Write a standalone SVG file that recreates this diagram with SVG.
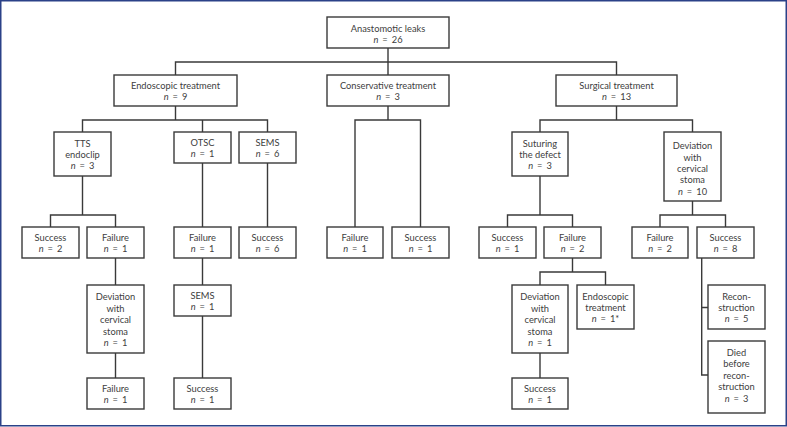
<svg xmlns="http://www.w3.org/2000/svg" width="787" height="427" viewBox="0 0 787 427">
<style>
.b{fill:#fff;stroke:#3a3a3a;stroke-width:1.4}
.t{font-family:Lato,"Open Sans",sans-serif;font-size:9.3px;fill:#404040;text-anchor:middle}
.i{font-style:italic}
.w{word-spacing:1.6px}
.c{fill:none;stroke:#3a3a3a;stroke-width:1.4}
</style>
<rect x="0.75" y="0.75" width="785.5" height="425" fill="#fff" stroke="#2b4188" stroke-width="1.5"/>
<g id="connectors" class="c">
<path d="M388,48V75M175.5,75V62H616.5V75"/>
<path d="M175.5,106V120M82.5,132V120H267.5V132M202.5,120V132"/>
<path d="M388,106V120M355,227V120H420.5V227"/>
<path d="M616.5,106V120M540,132V120H692.5V132"/>
<path d="M82.5,176V215M50.5,227V215H115.5V227"/>
<path d="M202.5,163V227M267.5,163V227"/>
<path d="M540,176V215M507.5,227V215H572.5V227"/>
<path d="M692.5,201V215M660,227V215H725.5V227"/>
<path d="M115.5,258V285M115.5,353V378"/>
<path d="M202.5,258V285M202.5,316V378"/>
<path d="M572.5,258V272M540,285V272H605.5V285M540,353V378"/>
<path d="M701.7,258V375H708M701.7,307.5H708"/>
</g>
<g id="n1"><rect class="b" x="327" y="17" width="122" height="31"/><text class="t"><tspan x="388" y="31.5">Anastomotic leaks</tspan><tspan x="388" y="42.8" class="w"><tspan class="i">n</tspan> = 26</tspan></text></g>
<g id="n2"><rect class="b" x="114" y="75" width="123" height="31"/><text class="t"><tspan x="175.5" y="89">Endoscopic treatment</tspan><tspan x="175.5" y="100.2" class="w"><tspan class="i">n</tspan> = 9</tspan></text></g>
<g id="n3"><rect class="b" x="327" y="75" width="122" height="31"/><text class="t"><tspan x="388" y="89">Conservative treatment</tspan><tspan x="388" y="100.2" class="w"><tspan class="i">n</tspan> = 3</tspan></text></g>
<g id="n4"><rect class="b" x="556" y="75" width="121" height="31"/><text class="t"><tspan x="616.5" y="89">Surgical treatment</tspan><tspan x="616.5" y="100.2" class="w"><tspan class="i">n</tspan> = 13</tspan></text></g>
<g id="n5"><rect class="b" x="54" y="132" width="57" height="44"/><text class="t"><tspan x="82.5" y="146.5">TTS</tspan><tspan x="82.5" y="157.8">endoclip</tspan><tspan x="82.5" y="169.1" class="w"><tspan class="i">n</tspan> = 3</tspan></text></g>
<g id="n6"><rect class="b" x="174" y="132" width="57" height="31"/><text class="t"><tspan x="202.5" y="146">OTSC</tspan><tspan x="202.5" y="157.2" class="w"><tspan class="i">n</tspan> = 1</tspan></text></g>
<g id="n7"><rect class="b" x="239" y="132" width="57" height="31"/><text class="t"><tspan x="267.5" y="146">SEMS</tspan><tspan x="267.5" y="157.2" class="w"><tspan class="i">n</tspan> = 6</tspan></text></g>
<g id="n8"><rect class="b" x="512" y="132" width="56" height="44"/><text class="t"><tspan x="540" y="146.5">Suturing</tspan><tspan x="540" y="157.8">the defect</tspan><tspan x="540" y="169.1" class="w"><tspan class="i">n</tspan> = 3</tspan></text></g>
<g id="n9"><rect class="b" x="664" y="132" width="57" height="69"/><text class="t"><tspan x="692.5" y="149.3">Deviation</tspan><tspan x="692.5" y="160.6">with</tspan><tspan x="692.5" y="171.9">cervical</tspan><tspan x="692.5" y="183.2">stoma</tspan><tspan x="692.5" y="194.5" class="w"><tspan class="i">n</tspan> = 10</tspan></text></g>
<g id="n10"><rect class="b" x="22" y="227" width="57" height="31"/><text class="t"><tspan x="50.5" y="241">Success</tspan><tspan x="50.5" y="252.2" class="w"><tspan class="i">n</tspan> = 2</tspan></text></g>
<g id="n11"><rect class="b" x="87" y="227" width="57" height="31"/><text class="t"><tspan x="115.5" y="241">Failure</tspan><tspan x="115.5" y="252.2" class="w"><tspan class="i">n</tspan> = 1</tspan></text></g>
<g id="n12"><rect class="b" x="174" y="227" width="57" height="31"/><text class="t"><tspan x="202.5" y="241">Failure</tspan><tspan x="202.5" y="252.2" class="w"><tspan class="i">n</tspan> = 1</tspan></text></g>
<g id="n13"><rect class="b" x="239" y="227" width="57" height="31"/><text class="t"><tspan x="267.5" y="241">Success</tspan><tspan x="267.5" y="252.2" class="w"><tspan class="i">n</tspan> = 6</tspan></text></g>
<g id="n14"><rect class="b" x="327" y="227" width="56" height="31"/><text class="t"><tspan x="355" y="241">Failure</tspan><tspan x="355" y="252.2" class="w"><tspan class="i">n</tspan> = 1</tspan></text></g>
<g id="n15"><rect class="b" x="392" y="227" width="57" height="31"/><text class="t"><tspan x="420.5" y="241">Success</tspan><tspan x="420.5" y="252.2" class="w"><tspan class="i">n</tspan> = 1</tspan></text></g>
<g id="n16"><rect class="b" x="479" y="227" width="57" height="31"/><text class="t"><tspan x="507.5" y="241">Success</tspan><tspan x="507.5" y="252.2" class="w"><tspan class="i">n</tspan> = 1</tspan></text></g>
<g id="n17"><rect class="b" x="544" y="227" width="57" height="31"/><text class="t"><tspan x="572.5" y="241">Failure</tspan><tspan x="572.5" y="252.2" class="w"><tspan class="i">n</tspan> = 2</tspan></text></g>
<g id="n18"><rect class="b" x="632" y="227" width="56" height="31"/><text class="t"><tspan x="660" y="241">Failure</tspan><tspan x="660" y="252.2" class="w"><tspan class="i">n</tspan> = 2</tspan></text></g>
<g id="n19"><rect class="b" x="697" y="227" width="57" height="31"/><text class="t"><tspan x="725.5" y="241">Success</tspan><tspan x="725.5" y="252.2" class="w"><tspan class="i">n</tspan> = 8</tspan></text></g>
<g id="n20"><rect class="b" x="87" y="285" width="57" height="68"/><text class="t"><tspan x="115.5" y="300">Deviation</tspan><tspan x="115.5" y="311.5">with</tspan><tspan x="115.5" y="323">cervical</tspan><tspan x="115.5" y="334.5">stoma</tspan><tspan x="115.5" y="346" class="w"><tspan class="i">n</tspan> = 1</tspan></text></g>
<g id="n21"><rect class="b" x="174" y="285" width="57" height="31"/><text class="t"><tspan x="202.5" y="299">SEMS</tspan><tspan x="202.5" y="310.2" class="w"><tspan class="i">n</tspan> = 1</tspan></text></g>
<g id="n22"><rect class="b" x="512" y="285" width="56" height="68"/><text class="t"><tspan x="540" y="300">Deviation</tspan><tspan x="540" y="311.5">with</tspan><tspan x="540" y="323">cervical</tspan><tspan x="540" y="334.5">stoma</tspan><tspan x="540" y="346" class="w"><tspan class="i">n</tspan> = 1</tspan></text></g>
<g id="n23"><rect class="b" x="577" y="285" width="57" height="44"/><text class="t"><tspan x="605.5" y="299.5">Endoscopic</tspan><tspan x="605.5" y="310.8">treatment</tspan><tspan x="605.5" y="322.1" class="w"><tspan class="i">n</tspan> = 1*</tspan></text></g>
<g id="n24"><rect class="b" x="708" y="285" width="57" height="44"/><text class="t"><tspan x="736.5" y="299.5">Recon-</tspan><tspan x="736.5" y="310.8">struction</tspan><tspan x="736.5" y="322.1" class="w"><tspan class="i">n</tspan> = 5</tspan></text></g>
<g id="n25"><rect class="b" x="708" y="341" width="57" height="72"/><text class="t"><tspan x="736.5" y="356">Died</tspan><tspan x="736.5" y="367.4">before</tspan><tspan x="736.5" y="378.8">recon-</tspan><tspan x="736.5" y="390.2">struction</tspan><tspan x="736.5" y="401.6" class="w"><tspan class="i">n</tspan> = 3</tspan></text></g>
<g id="n26"><rect class="b" x="87" y="378" width="57" height="31"/><text class="t"><tspan x="115.5" y="392">Failure</tspan><tspan x="115.5" y="403.2" class="w"><tspan class="i">n</tspan> = 1</tspan></text></g>
<g id="n27"><rect class="b" x="174" y="378" width="57" height="31"/><text class="t"><tspan x="202.5" y="392">Success</tspan><tspan x="202.5" y="403.2" class="w"><tspan class="i">n</tspan> = 1</tspan></text></g>
<g id="n28"><rect class="b" x="512" y="378" width="56" height="31"/><text class="t"><tspan x="540" y="392">Success</tspan><tspan x="540" y="403.2" class="w"><tspan class="i">n</tspan> = 1</tspan></text></g>
</svg>
